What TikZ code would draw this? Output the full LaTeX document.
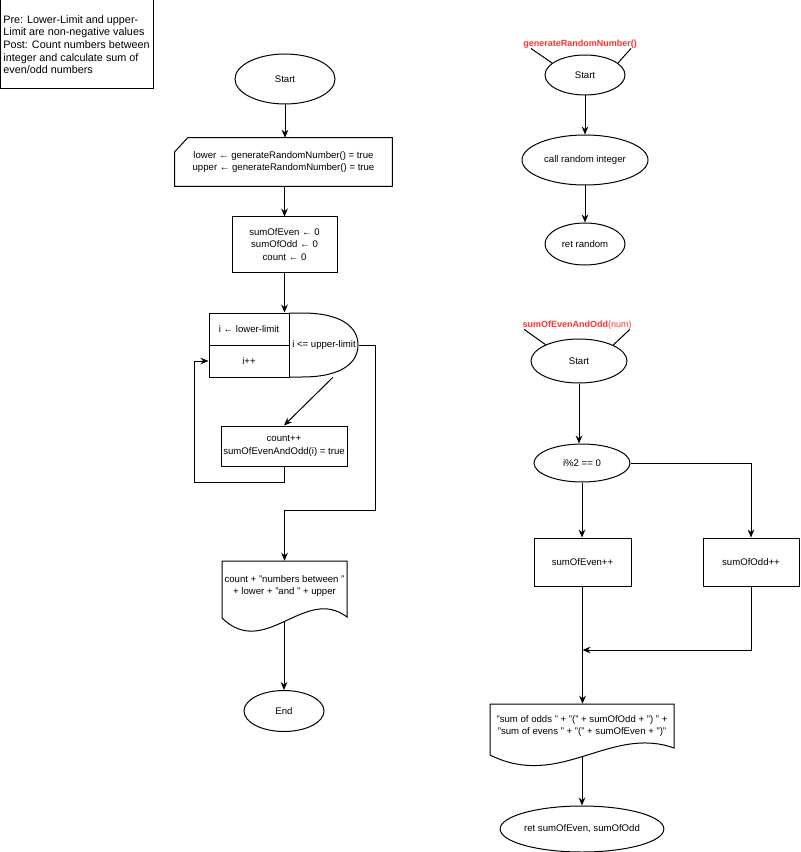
\documentclass[tikz,border=0pt]{standalone}
\usepackage{fontspec}
\setmainfont{Liberation Sans}
\usepackage{tikz}
\usetikzlibrary{shapes.geometric,arrows.meta,calc}
\definecolor{fnred}{HTML}{FF3333}
\tikzset{
	flowline/.style={black,line width=0.75pt},
	flowarrow/.style={flowline,-{Stealth[length=6pt,width=5pt]}},
	oval/.style={flowline,draw,ellipse,inner sep=0pt,align=center},
	procbox/.style={flowline,draw,rectangle,inner sep=0pt,align=center},
	plain/.style={inner sep=0pt,align=center},
	fname/.style={plain,text=fnred,font=\fontsize{6.75}{8}\selectfont}
}

\begin{document}
\begin{tikzpicture}[x=0.75pt,y=-0.75pt,font=\fontsize{7.2}{9.4}\selectfont]
	\useasboundingbox (0,0) rectangle (800,852);
	\node[procbox,minimum width=114.75pt,minimum height=66.75pt,align=left,font=\fontsize{8.1}{9.5}\selectfont] (note) at (76.5,44.5) {Pre: Lower-Limit and upper-\\Limit are non-negative values\\Post: Count numbers between\\integer and calculate sum of\\even/odd numbers};

	\node[oval,minimum width=75pt,minimum height=37.5pt] (start) at (285,79) {Start};
	\node[plain,minimum width=162.75pt,minimum height=36pt] (input) at (283.5,162) {lower ← generateRandomNumber() = true\\upper ← generateRandomNumber() = true};
	\draw[flowline] ($(input.north west)+(0,14)$) -- ($(input.north west)+(13,0)$) -- (input.north east) -- (input.south east) -- (input.south west) -- cycle;
	\node[procbox,minimum width=78.75pt,minimum height=41.25pt] (init) at (284.5,244.5) {sumOfEven ← 0\\sumOfOdd ← 0\\count ← 0};
	\node[procbox,minimum width=60pt,minimum height=24pt] (loopinit) at (249,329) {i ← lower-limit};
	\node[procbox,minimum width=60pt,minimum height=24pt] (loopinc) at (249,361) {i++};
	\node[plain,minimum width=51.75pt,minimum height=48pt] (loopcond) at (324,345) {i <= upper-limit};
	\draw[flowline] (289,313) -- (302,313) .. controls (343,313) and (358,328) .. (358,345) .. controls (358,362) and (343,377) .. (302,377) -- (289,377);
	\node[procbox,minimum width=94.5pt,minimum height=30pt] (body) at (284,446) {count++\\sumOfEvenAndOdd(i) = true};
	\node[plain,minimum width=93.75pt,minimum height=37.5pt] (output) at (284.5,586) {count + "numbers between "\\+ lower + "and " + upper};
	\draw[flowline] (222,561) -- (347,561) -- (347,617) .. controls (305,585) and (265,660) .. (222,618) coordinate[pos=0.5] (outbot) -- cycle;
	\node[oval,minimum width=60pt,minimum height=30.75pt] (end) at (284,711) {End};

	\draw[flowarrow] (start.south) -- (start.south |- input.north);
	\draw[flowarrow] (init.north |- input.south) -- (init.north);
	\draw[flowarrow] (init.south) -- (init.south |- loopinit.north);
	\draw[flowarrow] ($(loopcond.south)+(9,0)$) -- (body.north);
	\draw[flowarrow] (body.south) -- ++(0,16) -| ($(loopinc.west)+(-14,0)$) -- (loopinc.west);
	\draw[flowarrow] (loopcond.east) -- ++(17,0) -- ++(0,165) -| (output.north);
	\draw[flowarrow] (end.north |- outbot) -- (end.north);

	\node[fname] (fn1) at (580,44) {\bfseries generateRandomNumber()};
	\node[oval,minimum width=60pt,minimum height=30pt] (start2) at (585,75) {Start};
	\node[oval,minimum width=94.5pt,minimum height=37.5pt] (call) at (585,160) {call random integer};
	\node[oval,minimum width=60pt,minimum height=31.5pt] (ret) at (585,244) {ret random};
	\draw[flowline] ($(fn1.south west)+(8,0)$) -- (start2.160);
	\draw[flowline] ($(fn1.south east)+(-6,0)$) -- (start2.20);
	\draw[flowarrow] (start2) -- (call);
	\draw[flowarrow] (call) -- (ret);

	\node[fname] (fn2) at (577,325) {{\bfseries sumOfEvenAndOdd}(num)};
	\node[oval,minimum width=72pt,minimum height=33pt] (start3) at (579,361) {Start};
	\draw[flowline] ($(fn2.south west)+(2,0)$) -- (start3.154);
	\draw[flowline] ($(fn2.south east)+(-2,0)$) -- (start3.25);
	\node[oval,minimum width=72pt,minimum height=28.5pt] (decision) at (582,463) {i\%2 == 0};
	\node[procbox,minimum width=72.75pt,minimum height=36pt] (evenbox) at (582.5,562) {sumOfEven++};
	\node[procbox,minimum width=72pt,minimum height=36pt] (oddbox) at (751,562) {sumOfOdd++};
	\coordinate (join) at (582.5,650);
	\node[plain,minimum width=138pt,minimum height=33pt] (result) at (582,726) {"sum of odds " + "(" + sumOfOdd + ") " +\\"sum of evens " + "(" + sumOfEven + ")"};
	\draw[flowline] (490,704) -- (674,704) -- (674,748) .. controls (610,725) and (560,790) .. (490,755) coordinate[pos=0.5] (resbot) -- cycle;
	\node[oval,minimum width=88.5pt,minimum height=34.5pt] (final) at (582,829) {ret sumOfEven, sumOfOdd};

	\draw[flowarrow] (start3.south) -- (start3.south |- decision.north);
	\draw[flowarrow] (decision.east) -| (oddbox.north);
	\draw[flowarrow] (decision.south) -- (decision.south |- evenbox.north);
	\draw[flowarrow] (oddbox.south) |- (join);
	\draw[flowarrow] (evenbox.south) -- (evenbox.south |- result.north);
	\draw[flowarrow] (final.north |- resbot) -- (final.north);
\end{tikzpicture}
\end{document}
